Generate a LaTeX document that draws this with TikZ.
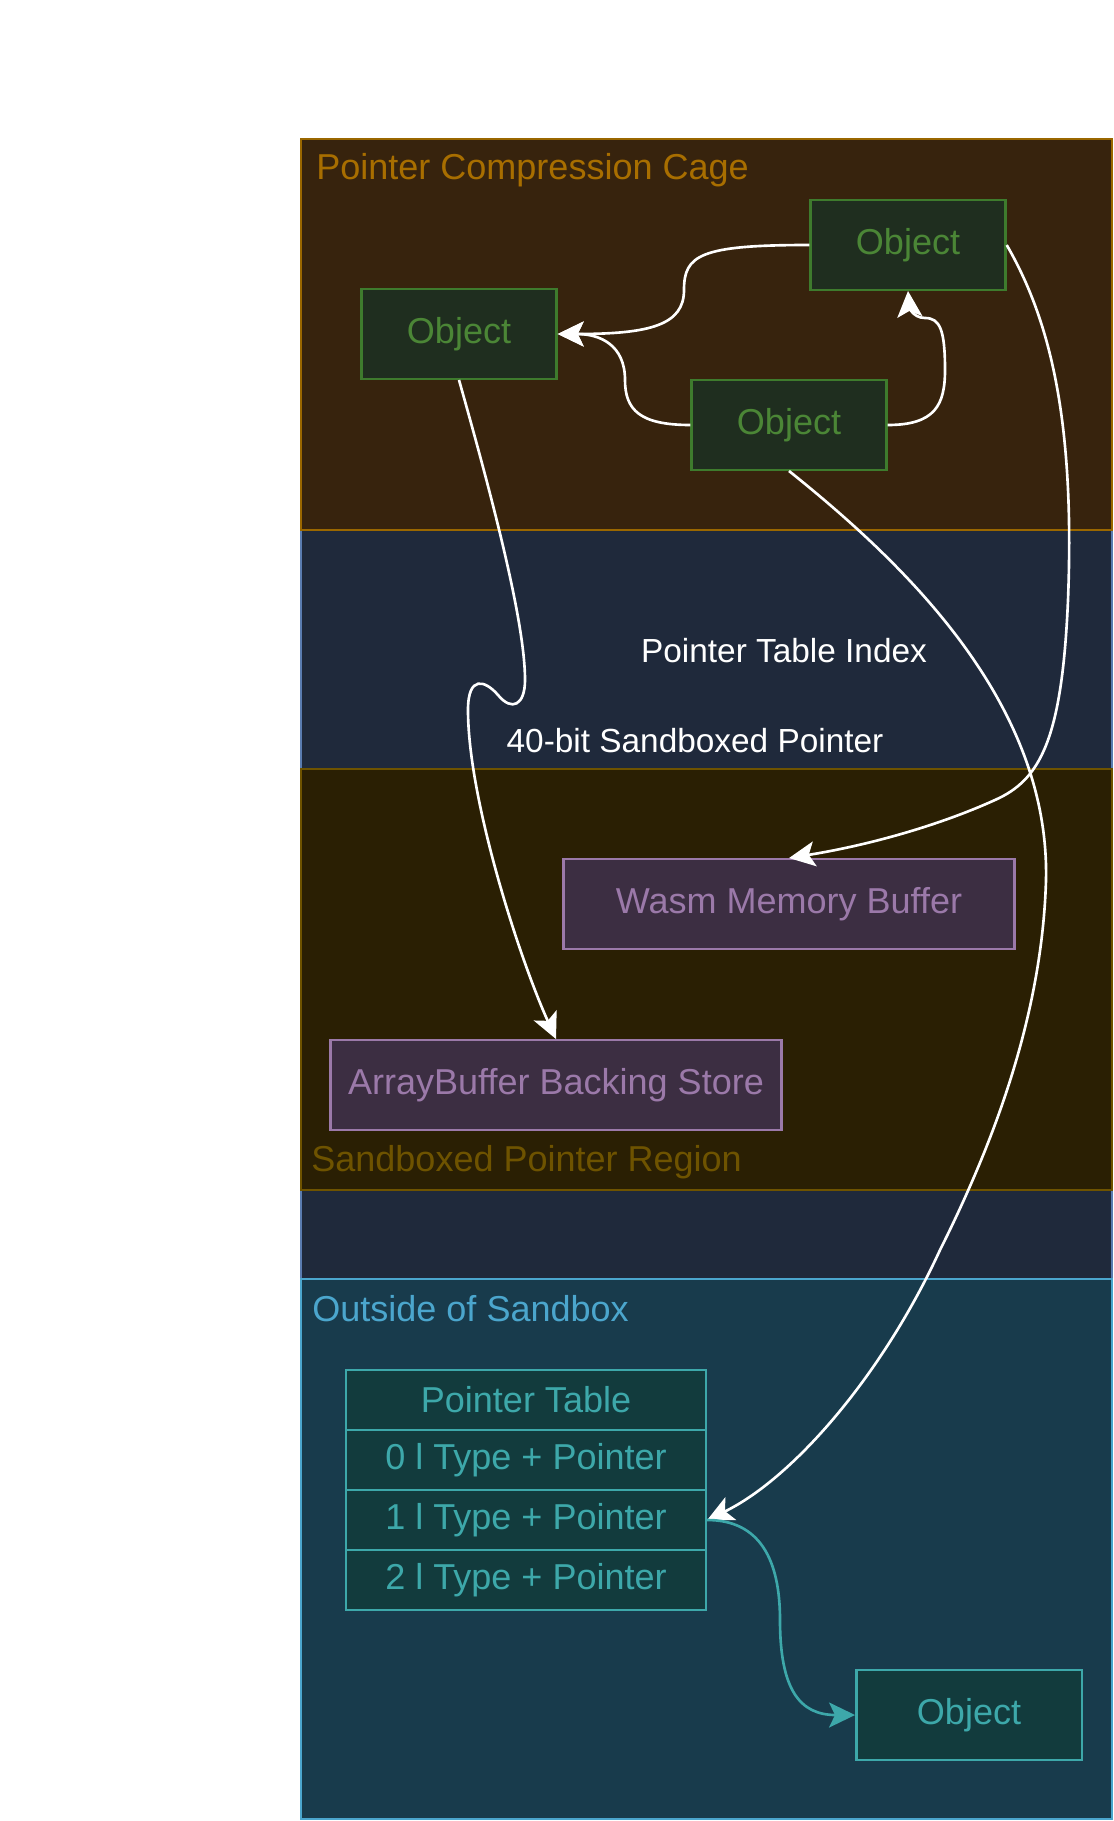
\documentclass[tikz,border=0pt]{standalone}
\usepackage{fontspec}
\setmainfont{Liberation Sans}
\usetikzlibrary{arrows.meta}
\definecolor{cagefill}{HTML}{37230D}
\definecolor{cageline}{HTML}{9A6700}
\definecolor{cagetext}{HTML}{A86E00}
\definecolor{objfill}{HTML}{1F2E1F}
\definecolor{objline}{HTML}{3E7B2D}
\definecolor{objtext}{HTML}{4B8636}
\definecolor{sboxfill}{HTML}{1F293B}
\definecolor{sboxline}{HTML}{5A7CB0}
\definecolor{regfill}{HTML}{2A1F03}
\definecolor{regline}{HTML}{6E5300}
\definecolor{buffill}{HTML}{3C2E42}
\definecolor{bufline}{HTML}{9B79A9}
\definecolor{outfill}{HTML}{183B4C}
\definecolor{outsideline}{HTML}{4BA6CD}
\definecolor{tabfill}{HTML}{123B3D}
\definecolor{tabline}{HTML}{3DA8AA}

\begin{document}
\begin{tikzpicture}[x=0.02cm,y=-0.02cm,
    obj/.style={draw=objline,fill=objfill,text=objtext,line width=1.4pt,minimum width=3.9cm,minimum height=1.79cm,font=\fontsize{20.5}{24}\selectfont},
    buf/.style={draw=bufline,fill=buffill,text=bufline,line width=1.4pt,minimum width=9.02cm,minimum height=1.79cm,font=\fontsize{20.5}{24}\selectfont},
    row/.style={draw=tabline,fill=tabfill,text=tabline,line width=1.4pt,minimum width=7.2cm,minimum height=1.2cm,font=\fontsize{20.5}{24}\selectfont},
    title/.style={anchor=base west,inner sep=0pt,font=\fontsize{20.5}{24}\selectfont},
    link/.style={white,line width=1.5pt,-{Stealth[length=0.52cm,width=0.5cm,inset=0.12cm]}},
    lbl/.style={text=white,inner sep=0pt,font=\fontsize{19}{22}\selectfont}]
    \useasboundingbox[fill=white] (0,0) rectangle (1113,1821);
    \draw[sboxline,fill=sboxfill,line width=1.4pt] (301,139) rectangle (1112,1279);
    \draw[cageline,fill=cagefill,line width=1.4pt] (301,139) rectangle (1112,530);
    \draw[regline,fill=regfill,line width=1.4pt] (301,769) rectangle (1112,1190);
    \draw[outsideline,fill=outfill,line width=1.4pt] (301,1279) rectangle (1112,1819);
    \node[title,text=cagetext] (cage) at (316,180) {Pointer Compression Cage};
    \node[title,text=regline] (region) at (311,1171) {Sandboxed Pointer Region};
    \node[title,text=outsideline] (outside) at (312,1321) {Outside of Sandbox};

    \node[obj] (objA) at (459,334) {Object};
    \node[obj] (objB) at (908,245) {Object};
    \node[obj] (objC) at (789,425) {Object};
    \node[buf] (wasm) at (789,904) {Wasm Memory Buffer};
    \node[buf] (store) at (556,1085) {ArrayBuffer Backing Store};
    \node[row] (tab) at (526,1400) {Pointer Table};
    \foreach \i/\y in {0/1460,1/1520,2/1580}
      \node[row] (row\i) at (526,\y) {\i\ l Type + Pointer};
    \node[row,minimum width=4.51cm,minimum height=1.81cm] (objD) at (969,1715) {Object};

    \draw[link] (objB.west) .. controls (700,245) and (684,255) .. (684,290) .. controls (684,325) and (650,334) .. (objA.east);
    \draw[link] (objC.west) .. controls (640,425) and (625,410) .. (625,380) .. controls (625,345) and (600,334) .. (objA.east);
    \draw[link] (objC.east) .. controls (935,425) and (945,405) .. (945,370) .. controls (945,330) and (940,318) .. (925,318) .. controls (912,318) and (909,305) .. (objB.south);
    \draw[link] (objB.east) .. controls (1050,320) and (1075,420) .. (1068,600) .. controls (1062,740) and (1040,780) .. (995,800) .. controls (940,825) and (870,845) .. (wasm.north);
    \draw[link] (objA.south) .. controls (490,490) and (525,620) .. (525,680) .. controls (525,705) and (512,712) .. (498,695) .. controls (485,680) and (468,675) .. (468,710) .. controls (468,800) and (520,960) .. (store.north);
    \draw[link] (objC.south) .. controls (900,560) and (1050,700) .. (1046,880) .. controls (1042,1020) and (990,1150) .. (940,1250) .. controls (880,1380) and (790,1480) .. (row1.east);
    \draw[link,tabline] (row1.east) .. controls (760,1520) and (780,1560) .. (780,1620) .. controls (780,1690) and (800,1715) .. (objD.west);

    \node[lbl] (index) at (784,651) {Pointer Table Index};
    \node[lbl] (sptr) at (695,741) {40-bit Sandboxed Pointer};
\end{tikzpicture}
\end{document}
